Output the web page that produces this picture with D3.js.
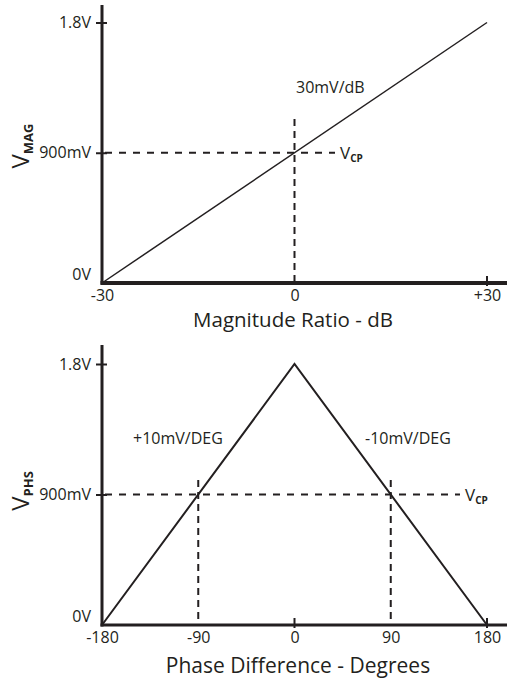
<!DOCTYPE html>
<html>
<head>
<meta charset="utf-8">
<script src="https://cdn.jsdelivr.net/npm/d3@7"></script>
<style>
  html, body { margin: 0; padding: 0; background: #fff; }
  svg { display: block; font-family: "Open Sans", "Noto Sans", sans-serif; }
</style>
</head>
<body>
<svg id="chart" width="507" height="682"></svg>
<script>
// Transfer characteristics: magnitude output and phase output
const magX = [-30, 30];            // magnitude ratio, dB
const magV = [0, 1.8];             // V_MAG output, volts
const magTicks = [-30, 0, 30];
const magTickLabels = ["-30", "0", "+30"];

const phsX = [-180, 0, 180];       // phase difference, degrees
const phsV = [0, 1.8, 0];          // V_PHS output, volts
const phsTicks = [-180, -90, 0, 90, 180];
const phsTickLabels = ["-180", "-90", "0", "90", "180"];

const voltTicks = [0, 0.9, 1.8];
const voltTickLabels = ["0V", "900mV", "1.8V"];
const vcp = 0.9;                   // center point voltage

const ink = "#231f20";
const svg = d3.select("#chart");

function panel(opts) {
  const g = svg.append("g");
  const x = d3.scaleLinear().domain(opts.xDomain).range([102, 487]);
  const y = d3.scaleLinear().domain([0, 1.8]).range([opts.y0, opts.y1]);

  // y axis ticks and labels (the 0V label sits just above the corner)
  const yAxis = d3.axisLeft(y)
    .tickValues(voltTicks)
    .tickFormat((d, i) => voltTickLabels[i])
    .tickSize(6).tickPadding(5);
  const ya = g.append("g").attr("transform", "translate(102,0)").call(yAxis);
  ya.select(".domain").remove();
  ya.selectAll(".tick line").attr("x1", -6).attr("x2", 5)
    .attr("stroke", ink).attr("stroke-width", 2)
    .attr("display", d => d === 0 ? "none" : null);
  ya.selectAll(".tick text").attr("font-size", 16).attr("fill", ink)
    .attr("font-family", "Open Sans").attr("dy", "0.32em")
    .attr("y", d => d === 0 ? -9 : 0);

  // x axis ticks and labels
  const xAxis = d3.axisBottom(x)
    .tickValues(opts.ticks)
    .tickFormat((d, i) => opts.tickLabels[i])
    .tickSize(0).tickPadding(7);
  const xa = g.append("g").attr("transform", `translate(0,${opts.y0})`).call(xAxis);
  xa.select(".domain").remove();
  xa.selectAll(".tick text").attr("font-size", 16).attr("fill", ink)
    .attr("font-family", "Open Sans");
  // small ticks crossing the baseline
  g.append("g").selectAll("line").data(opts.crossTicks).join("line")
    .attr("x1", d => x(d)).attr("x2", d => x(d))
    .attr("y1", opts.y0 - 7).attr("y2", opts.y0 + 3)
    .attr("stroke", ink).attr("stroke-width", 2);

  // dashed guides
  g.append("line")
    .attr("x1", 102).attr("x2", opts.hEnd)
    .attr("y1", y(vcp)).attr("y2", y(vcp))
    .attr("stroke", ink).attr("stroke-width", 2).attr("stroke-dasharray", "7,7")
    .attr("stroke-dashoffset", -3);
  g.append("g").selectAll("line").data(opts.vGuides).join("line")
    .attr("x1", d => x(d)).attr("x2", d => x(d))
    .attr("y1", opts.vTop).attr("y2", opts.y0)
    .attr("stroke", ink).attr("stroke-width", 2).attr("stroke-dasharray", "7,5");

  // data line
  const line = d3.line().x(d => x(d[0])).y(d => y(d[1]));
  g.append("path")
    .datum(opts.xs.map((v, i) => [v, opts.vs[i]]))
    .attr("d", line).attr("fill", "none")
    .attr("stroke", ink).attr("stroke-width", opts.lw);

  // axis lines
  g.append("line").attr("x1", 102).attr("x2", 102)
    .attr("y1", opts.axisTop).attr("y2", opts.y0 + 1.5)
    .attr("stroke", ink).attr("stroke-width", 3);
  g.append("line").attr("x1", 100.5).attr("x2", 507)
    .attr("y1", opts.y0).attr("y2", opts.y0)
    .attr("stroke", ink).attr("stroke-width", opts.xw);

  // V_CP label
  const vl = g.append("text").attr("x", opts.hEnd + 5).attr("y", y(vcp) + 6)
    .attr("fill", ink).attr("font-size", 17);
  vl.append("tspan").text("V");
  vl.append("tspan").text("CP").attr("font-size", 10).attr("font-weight", "bold").attr("dy", 3);

  // y axis title
  const yt = g.append("text")
    .attr("transform", `translate(29,${opts.yTitle}) rotate(-90)`)
    .attr("text-anchor", "middle").attr("fill", ink).attr("font-size", 24);
  yt.append("tspan").text("V");
  yt.append("tspan").text(opts.sub).attr("font-size", 13).attr("font-weight", "bold").attr("dy", 4);

  // x axis title
  g.append("text").attr("x", opts.titleX).attr("y", opts.titleY)
    .attr("text-anchor", "middle").attr("fill", ink).attr("font-size", opts.titleSize)
    .text(opts.title);

  return { g, x, y };
}

const magPanel = panel({
  xDomain: [-30, 30], y0: 283, y1: 22.5, axisTop: 5,
  ticks: magTicks, tickLabels: magTickLabels, crossTicks: [30],
  xs: magX, vs: magV, lw: 1.5, xw: 4,
  hEnd: 335, vGuides: [0], vTop: 119,
  sub: "MAG", yTitle: 146,
  title: "Magnitude Ratio - dB", titleX: 293, titleY: 327, titleSize: 20.5
});
magPanel.g.append("text").attr("x", 296).attr("y", 93)
  .attr("fill", ink).attr("font-size", 16).text("30mV/dB");

const phsPanel = panel({
  xDomain: [-180, 180], y0: 625, y1: 364, axisTop: 345,
  ticks: phsTicks, tickLabels: phsTickLabels, crossTicks: [0, 180],
  xs: phsX, vs: phsV, lw: 2, xw: 3,
  hEnd: 460, vGuides: [-90, 90], vTop: 480,
  sub: "PHS", yTitle: 491,
  title: "Phase Difference - Degrees", titleX: 298, titleY: 673, titleSize: 21
});
phsPanel.g.append("text").attr("x", 133).attr("y", 444)
  .attr("fill", ink).attr("font-size", 16).text("+10mV/DEG");
phsPanel.g.append("text").attr("x", 365).attr("y", 444)
  .attr("fill", ink).attr("font-size", 16).text("-10mV/DEG");
</script>
</body>
</html>
